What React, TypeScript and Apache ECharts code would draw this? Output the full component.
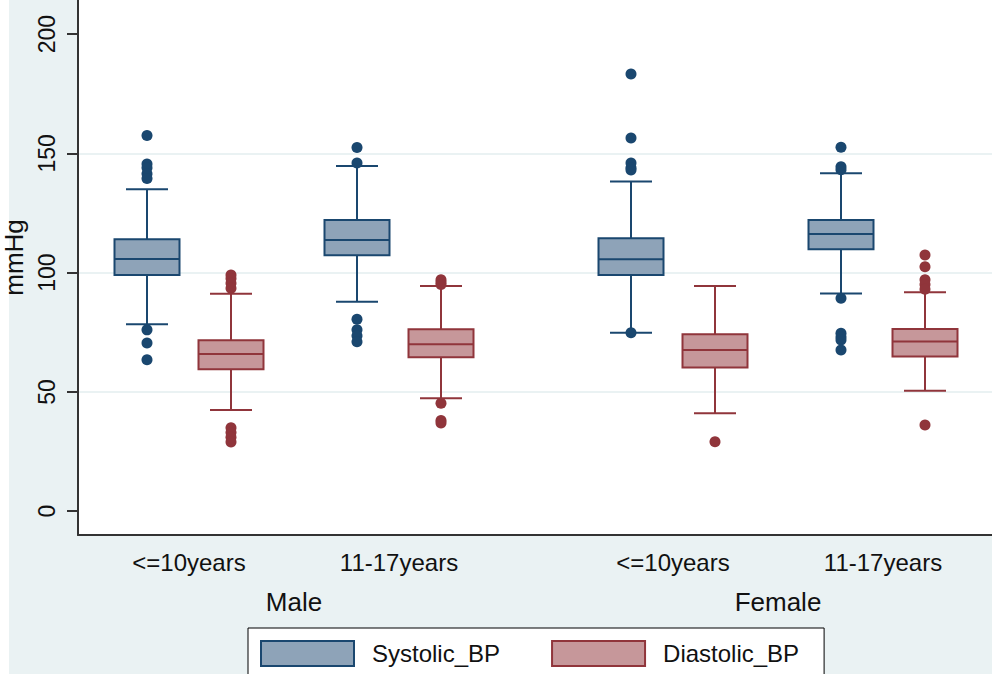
import React, { useEffect, useRef } from "react";
import * as echarts from "echarts";

const sexes = ["Male", "Female"];
const ageGroups = ["<=10years", "11-17years"];
const seriesNames = ["Systolic_BP", "Diastolic_BP"];
const yTicks = [0, 50, 100, 150, 200];

// Box stats: [lower whisker, Q1, median, Q3, upper whisker]
// order: Male <=10, Male 11-17, Female <=10, Female 11-17
const systolicBoxes = [
  [78.4, 99.0, 105.7, 114.0, 135.0],
  [87.8, 107.3, 113.7, 122.1, 144.7],
  [74.8, 99.0, 105.6, 114.4, 138.2],
  [91.2, 109.8, 116.2, 122.1, 141.7],
];
const diastolicBoxes = [
  [42.4, 59.5, 65.9, 71.7, 91.1],
  [47.3, 64.5, 70.0, 76.3, 94.4],
  [41.0, 60.2, 67.6, 74.2, 94.4],
  [50.5, 64.8, 71.1, 76.4, 91.8],
];
const systolicOutliers = [
  [157.5, 145.5, 144, 141.5, 139.5, 76, 70.5, 63.5],
  [152.5, 146, 80.5, 76, 73.5, 71],
  [183.3, 156.4, 146, 144, 143, 74.8],
  [152.6, 144.4, 143.1, 89.3, 74.6, 73, 71.8, 67.6],
];
const diastolicOutliers = [
  [99, 97.5, 95.5, 93.5, 35, 33, 31, 29],
  [97, 96, 95, 45.2, 38, 37],
  [29.1],
  [107.4, 102.5, 97, 95, 93, 36.1],
];

// layout (x axis in pixel-like units)
const X_MAX = 914;
const START = 69;
const GROUP_STEP = 484;
const AGE_STEP = 210;
const SERIES_STEP = 84;
const BOX_W = 65;
const CAP_W = 42;

const NAVY = "#1a476f";
const NAVY_FILL = "#8ea3b8";
const MAROON = "#90353b";
const MAROON_FILL = "#c6979a";
const BG = "#eaf2f3";
const FONT = "'Liberation Sans', Arial, sans-serif";

const xPos = (g: number, a: number, s: number) =>
  START + g * GROUP_STEP + a * AGE_STEP + s * SERIES_STEP;

export default function App() {
  const ref = useRef<HTMLDivElement>(null);

  useEffect(() => {
    if (!ref.current) return;
    const chart = echarts.init(ref.current, undefined, { renderer: "svg" });

    const boxSets = [systolicBoxes, diastolicBoxes];
    const outSets = [systolicOutliers, diastolicOutliers];
    const strokes = [NAVY, MAROON];
    const fills = [NAVY_FILL, MAROON_FILL];

    const ageLabelVals: number[] = [];
    const ageLabelMap: Record<string, string> = {};
    const sexLabelVals: number[] = [];
    const sexLabelMap: Record<string, string> = {};
    sexes.forEach((sx, g) => {
      ageGroups.forEach((ag, a) => {
        const v = (xPos(g, a, 0) + xPos(g, a, 1)) / 2;
        ageLabelVals.push(v);
        ageLabelMap[String(v)] = ag;
      });
      const v = (xPos(g, 0, 0) + xPos(g, 1, 1)) / 2;
      sexLabelVals.push(v);
      sexLabelMap[String(v)] = sx;
    });

    const series: any[] = [];
    seriesNames.forEach((name, s) => {
      const data: number[][] = [];
      const outData: number[][] = [];
      let k = 0;
      sexes.forEach((_, g) => {
        ageGroups.forEach((__, a) => {
          const x = xPos(g, a, s);
          data.push([x, ...boxSets[s][k]]);
          outSets[s][k].forEach((v) => outData.push([x, v]));
          k++;
        });
      });
      const stroke = strokes[s];
      const fill = fills[s];
      series.push({
        name,
        type: "custom",
        itemStyle: { color: fill, borderColor: stroke },
        encode: { x: 0, y: [1, 2, 3, 4, 5] },
        data,
        renderItem: (params: any, api: any) => {
          const x = api.value(0);
          const lw = api.coord([x, api.value(1)]);
          const q1 = api.coord([x, api.value(2)]);
          const md = api.coord([x, api.value(3)]);
          const q3 = api.coord([x, api.value(4)]);
          const uw = api.coord([x, api.value(5)]);
          const bw = api.size([BOX_W, 0])[0];
          const cw = api.size([CAP_W, 0])[0];
          const cx = q1[0];
          const ls = { stroke, lineWidth: 2 };
          return {
            type: "group",
            children: [
              { type: "line", shape: { x1: cx, y1: uw[1], x2: cx, y2: q3[1] }, style: ls },
              { type: "line", shape: { x1: cx, y1: q1[1], x2: cx, y2: lw[1] }, style: ls },
              { type: "line", shape: { x1: cx - cw / 2, y1: uw[1], x2: cx + cw / 2, y2: uw[1] }, style: ls },
              { type: "line", shape: { x1: cx - cw / 2, y1: lw[1], x2: cx + cw / 2, y2: lw[1] }, style: ls },
              {
                type: "rect",
                shape: { x: cx - bw / 2, y: q3[1], width: bw, height: q1[1] - q3[1] },
                style: { fill, stroke, lineWidth: 2 },
              },
              { type: "line", shape: { x1: cx - bw / 2, y1: md[1], x2: cx + bw / 2, y2: md[1] }, style: ls },
            ],
          };
        },
        z: 2,
      });
      series.push({
        name,
        type: "scatter",
        symbol: "circle",
        symbolSize: 11,
        itemStyle: { color: stroke, opacity: 1 },
        data: outData,
        z: 3,
      });
    });

    chart.setOption({
      animation: false,
      backgroundColor: BG,
      textStyle: { fontFamily: FONT },
      grid: {
        left: 78,
        right: 0,
        top: 0,
        bottom: 139,
        containLabel: false,
        outerBoundsMode: "none",
        show: true,
        backgroundColor: "#ffffff",
        borderWidth: 0,
      },
      xAxis: [
        {
          type: "value",
          min: 0,
          max: X_MAX,
          axisLine: { show: true, onZero: false, lineStyle: { color: "#333", width: 2 } },
          axisTick: { show: false },
          splitLine: { show: false },
          axisLabel: {
            customValues: ageLabelVals,
            formatter: (v: number) => ageLabelMap[String(v)] ?? "",
            fontSize: 24,
            color: "#111",
            margin: 15,
            fontFamily: FONT,
          },
        },
        {
          type: "value",
          min: 0,
          max: X_MAX,
          position: "bottom",
          axisLine: { show: false },
          axisTick: { show: false },
          splitLine: { show: false },
          axisLabel: {
            customValues: sexLabelVals,
            formatter: (v: number) => sexLabelMap[String(v)] ?? "",
            fontSize: 26,
            color: "#111",
            margin: 54,
            fontFamily: FONT,
          },
        },
      ],
      yAxis: {
        type: "value",
        min: -10,
        max: 214.3,
        name: "mmHg",
        nameLocation: "middle",
        nameRotate: 90,
        nameGap: 42,
        nameTextStyle: { fontSize: 26, color: "#111", fontFamily: FONT, padding: [0, 0, 0, 20] },
        axisLine: { show: true, lineStyle: { color: "#333", width: 2 } },
        axisTick: {
          show: true,
          length: 11,
          customValues: yTicks,
          lineStyle: { color: "#333", width: 2 },
        },
        axisLabel: {
          customValues: yTicks,
          rotate: 90,
          fontSize: 23,
          color: "#111",
          margin: 20,
          fontFamily: FONT,
        },
        splitLine: {
          show: true,
          showMinLine: false,
          showMaxLine: false,
          lineStyle: { color: BG, width: 2 },
        },
      },
      legend: {
        left: 248,
        top: 628,
        orient: "horizontal",
        selectedMode: false,
        backgroundColor: "#ffffff",
        borderColor: "#000",
        borderWidth: 1,
        borderRadius: 0,
        padding: [12, 25, 20, 12],
        itemWidth: 93,
        itemHeight: 25,
        itemGap: 51,
        textStyle: { fontSize: 24, color: "#111", fontFamily: FONT, padding: [0, 0, 0, 13] },
        data: seriesNames.map((n, s) => ({
          name: n,
          icon: "rect",
          itemStyle: { color: fills[s], borderColor: strokes[s], borderWidth: 2 },
        })),
      },
      graphic: [
        {
          type: "rect",
          left: 0,
          top: 0,
          shape: { width: 9, height: 674 },
          style: { fill: "#ffffff" },
          silent: true,
        },
      ],
      series,
    });

    return () => chart.dispose();
  }, []);

  return (
    <div
      ref={ref}
      style={{ position: "fixed", left: 0, top: 0, width: 992, height: 674 }}
    />
  );
}
